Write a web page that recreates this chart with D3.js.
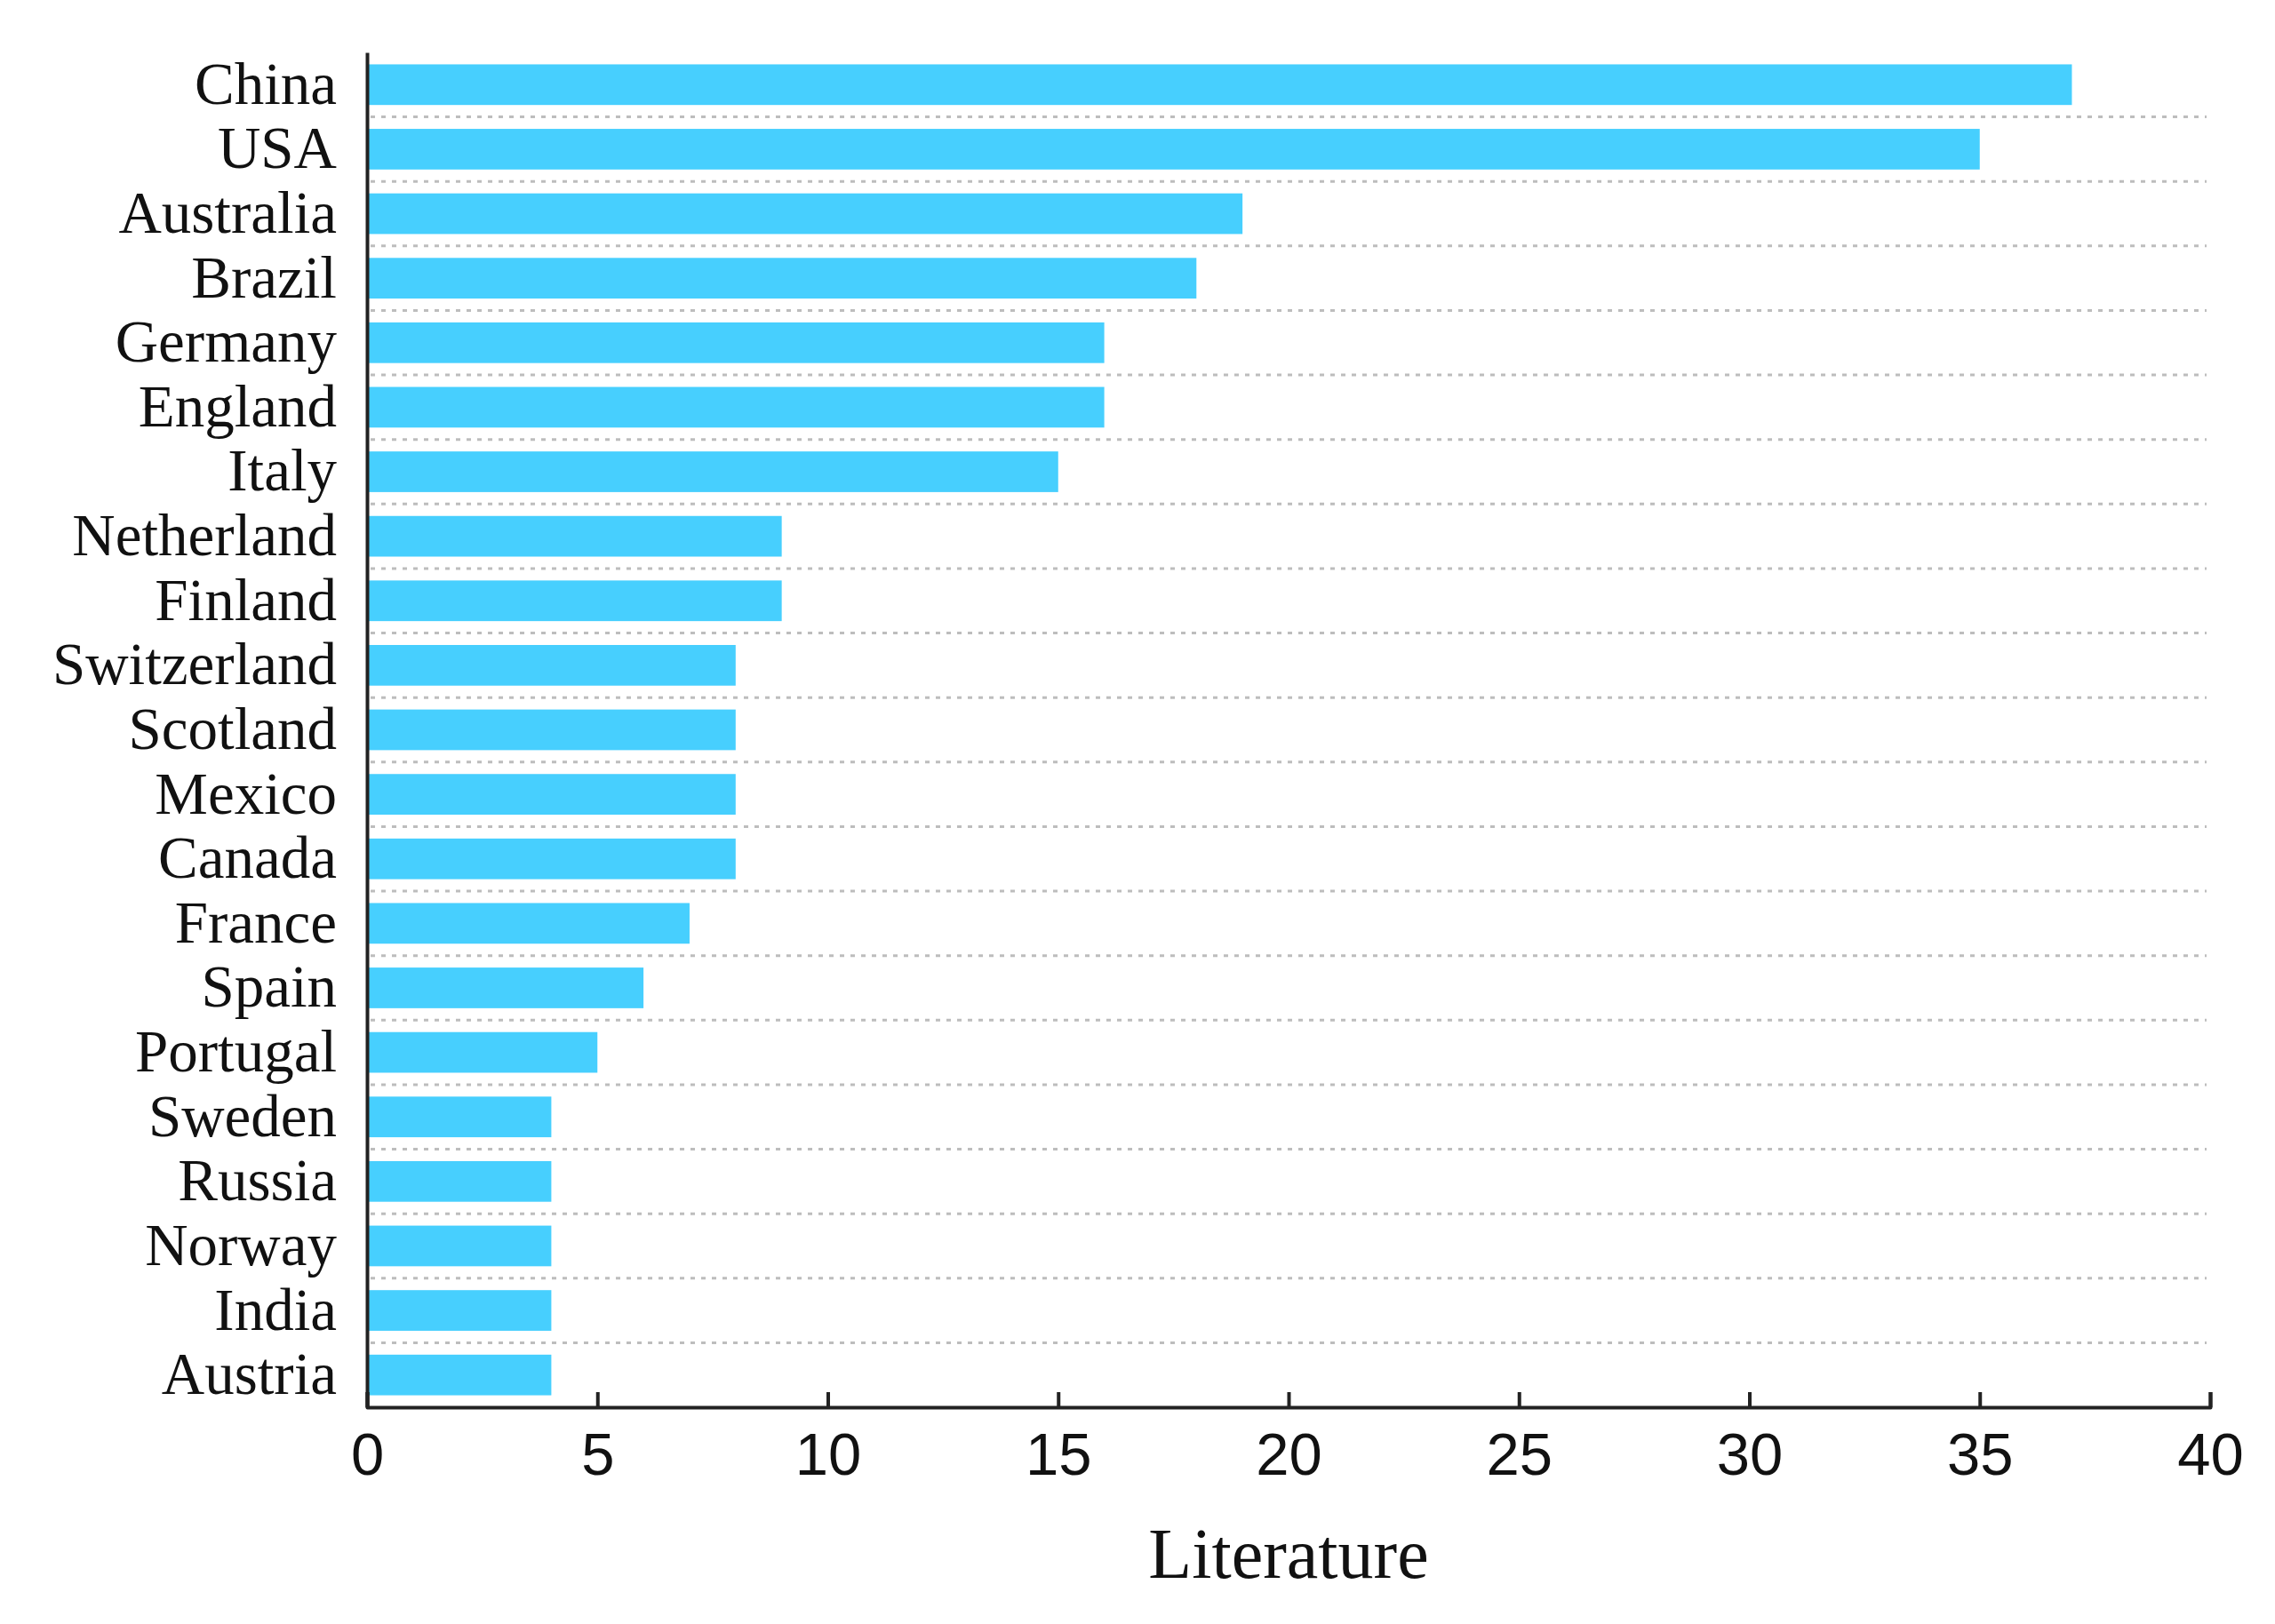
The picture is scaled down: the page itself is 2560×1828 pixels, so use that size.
<!DOCTYPE html>
<html>
<head>
<meta charset="utf-8">
<script src="https://cdn.jsdelivr.net/npm/d3@7"></script>
<style>
  html, body { margin: 0; padding: 0; background: #fff; }
  svg { display: block; }
</style>
</head>
<body>
<svg id="chart" width="2560" height="1828"></svg>
<script>
const countries = ["China","USA","Australia","Brazil","Germany","England","Italy","Netherland","Finland","Switzerland","Scotland","Mexico","Canada","France","Spain","Portugal","Sweden","Russia","Norway","India","Austria"];
const literature = [37,35,19,18,16,16,15,9,9,8,8,8,8,7,6,5,4,4,4,4,4];
const xTicks = [0,5,10,15,20,25,30,35,40];
const xLabel = "Literature";

(function () {
const svg = d3.select("#chart");
const mLeft = 413, mRight = 2487, mTop = 59, mBottom = 1584;

const x = d3.scaleLinear().domain([0, 40]).range([mLeft, mRight]);
const y = d3.scaleBand().domain(countries).range([mTop, mBottom]).paddingInner(0.37).paddingOuter(0.185);

// gridlines between bands
const step = y.step();
const gridYs = countries.slice(1).map(c => y(c) - y.paddingInner() * step / 2);
svg.append("g").selectAll("line").data(gridYs).join("line")
  .attr("x1", mLeft + 4).attr("x2", x(40) - 4)
  .attr("y1", d => d).attr("y2", d => d)
  .attr("stroke", "#bdbdbd").attr("stroke-width", 3)
  .attr("stroke-dasharray", "5,7");

// bars
svg.append("g").selectAll("rect").data(countries).join("rect")
  .attr("x", x(0) + 2)
  .attr("y", d => y(d))
  .attr("width", (d, i) => x(literature[i]) - x(0) - 2)
  .attr("height", y.bandwidth())
  .attr("fill", "#47CFFE");

// x axis
const xAxis = d3.axisBottom(x).tickValues(xTicks).tickSizeInner(-17).tickSizeOuter(-17).tickPadding(28);
const gx = svg.append("g").attr("transform", `translate(0,${mBottom})`).call(xAxis);
gx.select(".domain").attr("stroke", "#222").attr("stroke-width", 4).attr("stroke-linejoin", "round").attr("fill", "none");
gx.selectAll(".tick line").attr("stroke", "#222").attr("stroke-width", 4);
gx.selectAll(".tick text").attr("font-family", "'Liberation Sans', Arial, sans-serif").attr("font-size", 67).attr("fill", "#111");

// y axis
const yAxis = d3.axisLeft(y).tickSize(0).tickPadding(34);
const gy = svg.append("g").attr("transform", `translate(${mLeft},0)`).call(yAxis);
gy.select(".domain").attr("stroke", "#222").attr("stroke-width", 4).attr("fill", "none");
gy.selectAll(".tick text").attr("font-family", "'Liberation Serif', 'Times New Roman', serif").attr("font-size", 67).attr("fill", "#111");

// x axis label
svg.append("text")
  .attr("x", (mLeft + mRight) / 2).attr("y", 1776)
  .attr("text-anchor", "middle")
  .attr("font-family", "'Liberation Serif', 'Times New Roman', serif")
  .attr("font-size", 80).attr("fill", "#111")
  .text(xLabel);
})();
</script>
</body>
</html>
